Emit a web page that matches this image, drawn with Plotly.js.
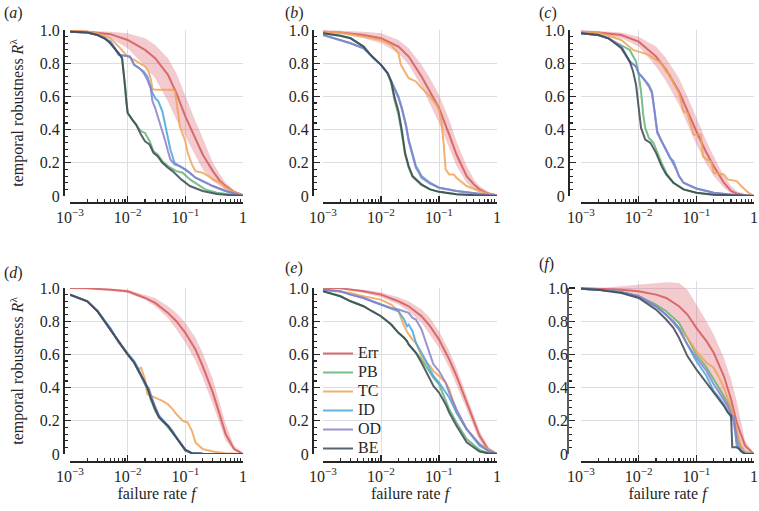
<!DOCTYPE html>
<html>
<head>
<meta charset="utf-8">
<script src="https://cdn.plot.ly/plotly-3.0.1.min.js"></script>
<style>
  html, body { margin: 0; padding: 0; background: #fff; }
  #chart { width: 759px; height: 511px; }
</style>
</head>
<body>
<div id="chart"></div>
<script>
// failure rates on which the Err mean and its band were read
var errF = [0.001, 0.002, 0.005, 0.01, 0.02, 0.03, 0.05, 0.07, 0.1, 0.15, 0.2, 0.3, 0.4, 0.5, 0.7, 1];

// (a)
var aErr   = [0.995, 0.99, 0.975, 0.94, 0.88, 0.83, 0.73, 0.62, 0.48, 0.34, 0.25, 0.15, 0.09, 0.06, 0.025, 0.005];
var aErrHi = [1.0, 0.997, 0.99, 0.98, 0.95, 0.91, 0.83, 0.74, 0.6, 0.45, 0.35, 0.2, 0.13, 0.08, 0.035, 0.01];
var aErrLo = [0.99, 0.98, 0.95, 0.89, 0.78, 0.71, 0.57, 0.46, 0.36, 0.24, 0.16, 0.09, 0.06, 0.035, 0.012, 0];
var aBEf = [0.001, 0.002, 0.003, 0.004, 0.005, 0.006, 0.007, 0.008, 0.0085, 0.009, 0.0095, 0.01, 0.012, 0.014, 0.017, 0.02, 0.024, 0.028, 0.033, 0.04, 0.05, 0.06, 0.085, 0.12, 0.2, 0.35, 0.6, 1];
var aBE  = [0.99, 0.985, 0.97, 0.95, 0.92, 0.89, 0.86, 0.83, 0.76, 0.66, 0.57, 0.5, 0.46, 0.43, 0.37, 0.33, 0.31, 0.26, 0.24, 0.2, 0.17, 0.15, 0.1, 0.06, 0.03, 0.012, 0.005, 0];
var aPBf = [0.001, 0.002, 0.003, 0.004, 0.005, 0.006, 0.007, 0.008, 0.0085, 0.009, 0.0095, 0.01, 0.012, 0.014, 0.017, 0.02, 0.024, 0.028, 0.033, 0.04, 0.05, 0.07, 0.09, 0.12, 0.16, 0.22, 0.35, 0.6, 1];
var aPB  = [0.99, 0.985, 0.97, 0.95, 0.92, 0.89, 0.86, 0.83, 0.76, 0.66, 0.57, 0.5, 0.46, 0.43, 0.39, 0.38, 0.33, 0.27, 0.25, 0.21, 0.18, 0.15, 0.14, 0.1, 0.07, 0.04, 0.02, 0.008, 0];
var aIDf = [0.001, 0.002, 0.003, 0.004, 0.005, 0.006, 0.007, 0.009, 0.011, 0.013, 0.016, 0.019, 0.022, 0.025, 0.027, 0.03, 0.034, 0.04, 0.045, 0.05, 0.055, 0.065, 0.08, 0.1, 0.12, 0.15, 0.2, 0.3, 0.5, 1];
var aID  = [0.99, 0.985, 0.97, 0.95, 0.93, 0.89, 0.85, 0.845, 0.84, 0.79, 0.77, 0.75, 0.72, 0.66, 0.62, 0.59, 0.57, 0.51, 0.43, 0.36, 0.28, 0.2, 0.18, 0.16, 0.14, 0.11, 0.09, 0.06, 0.03, 0];
var aOD  = [0.99, 0.985, 0.97, 0.95, 0.93, 0.89, 0.85, 0.845, 0.84, 0.79, 0.77, 0.74, 0.7, 0.65, 0.57, 0.53, 0.47, 0.4, 0.33, 0.27, 0.22, 0.19, 0.18, 0.16, 0.14, 0.11, 0.09, 0.06, 0.03, 0];
var aTCf = [0.001, 0.002, 0.003, 0.005, 0.007, 0.01, 0.013, 0.016, 0.02, 0.023, 0.025, 0.027, 0.03, 0.04, 0.05, 0.06, 0.066, 0.07, 0.075, 0.08, 0.09, 0.1, 0.11, 0.13, 0.15, 0.2, 0.25, 0.3, 0.4, 0.5, 0.7, 1];
var aTC  = [0.995, 0.99, 0.98, 0.95, 0.9, 0.84, 0.82, 0.8, 0.78, 0.75, 0.71, 0.645, 0.64, 0.64, 0.64, 0.64, 0.63, 0.58, 0.5, 0.42, 0.37, 0.33, 0.26, 0.19, 0.15, 0.14, 0.12, 0.1, 0.08, 0.05, 0.025, 0];

// (b)
var bErr   = [0.99, 0.985, 0.97, 0.95, 0.9, 0.84, 0.72, 0.63, 0.53, 0.37, 0.25, 0.12, 0.07, 0.04, 0.015, 0.005];
var bErrHi = [1.0, 0.995, 0.99, 0.98, 0.94, 0.89, 0.79, 0.71, 0.61, 0.46, 0.33, 0.18, 0.1, 0.06, 0.025, 0.01];
var bErrLo = [0.985, 0.975, 0.95, 0.92, 0.86, 0.79, 0.66, 0.55, 0.44, 0.29, 0.18, 0.08, 0.04, 0.02, 0.008, 0];
var bBEf = [0.001, 0.002, 0.003, 0.005, 0.007, 0.01, 0.013, 0.015, 0.017, 0.02, 0.023, 0.026, 0.03, 0.035, 0.05, 0.07, 0.1, 0.2, 0.5, 1];
var bBE  = [0.98, 0.965, 0.95, 0.9, 0.84, 0.79, 0.74, 0.69, 0.6, 0.51, 0.39, 0.26, 0.18, 0.12, 0.07, 0.04, 0.025, 0.01, 0.003, 0];
var bPB  = [0.98, 0.965, 0.95, 0.9, 0.84, 0.79, 0.74, 0.68, 0.58, 0.49, 0.37, 0.25, 0.17, 0.115, 0.065, 0.04, 0.025, 0.01, 0.003, 0];
var bIDf = [0.001, 0.002, 0.003, 0.005, 0.007, 0.01, 0.013, 0.015, 0.018, 0.02, 0.023, 0.027, 0.03, 0.035, 0.04, 0.045, 0.05, 0.07, 0.1, 0.2, 0.5, 1];
var bID  = [0.97, 0.94, 0.92, 0.89, 0.84, 0.79, 0.74, 0.69, 0.63, 0.6, 0.53, 0.43, 0.34, 0.25, 0.18, 0.15, 0.12, 0.08, 0.05, 0.03, 0.015, 0];
var bOD  = [0.97, 0.94, 0.92, 0.89, 0.84, 0.79, 0.74, 0.69, 0.62, 0.59, 0.52, 0.42, 0.33, 0.24, 0.17, 0.14, 0.11, 0.075, 0.05, 0.03, 0.015, 0];
var bTCf = [0.001, 0.002, 0.005, 0.01, 0.015, 0.02, 0.022, 0.027, 0.03, 0.04, 0.05, 0.07, 0.09, 0.1, 0.11, 0.12, 0.13, 0.15, 0.18, 0.2, 0.3, 0.5, 1];
var bTC  = [0.99, 0.985, 0.96, 0.94, 0.91, 0.86, 0.79, 0.74, 0.71, 0.69, 0.65, 0.6, 0.55, 0.52, 0.45, 0.32, 0.16, 0.13, 0.13, 0.11, 0.06, 0.03, 0];

// (c)
var cErr   = [0.99, 0.985, 0.97, 0.93, 0.84, 0.76, 0.63, 0.51, 0.39, 0.26, 0.18, 0.08, 0.03, 0.015, 0.005, 0];
var cErrHi = [1.0, 0.995, 0.985, 0.96, 0.9, 0.83, 0.71, 0.6, 0.47, 0.33, 0.24, 0.12, 0.06, 0.03, 0.01, 0];
var cErrLo = [0.985, 0.975, 0.95, 0.9, 0.78, 0.69, 0.55, 0.43, 0.31, 0.19, 0.12, 0.05, 0.015, 0.005, 0, 0];
var cBEf = [0.001, 0.002, 0.003, 0.005, 0.007, 0.008, 0.009, 0.01, 0.011, 0.013, 0.016, 0.02, 0.025, 0.03, 0.04, 0.06, 0.1, 0.2, 0.5, 1];
var cBE  = [0.98, 0.97, 0.95, 0.89, 0.81, 0.75, 0.67, 0.53, 0.41, 0.34, 0.32, 0.26, 0.18, 0.13, 0.08, 0.04, 0.02, 0.008, 0.002, 0];
var cPBf = [0.001, 0.002, 0.003, 0.005, 0.007, 0.009, 0.01, 0.011, 0.012, 0.013, 0.015, 0.018, 0.02, 0.025, 0.03, 0.04, 0.06, 0.1, 0.2, 0.5, 1];
var cPB  = [0.98, 0.97, 0.95, 0.91, 0.88, 0.81, 0.73, 0.63, 0.49, 0.41, 0.35, 0.32, 0.28, 0.2, 0.14, 0.08, 0.04, 0.02, 0.008, 0.002, 0];
var cIDf = [0.001, 0.002, 0.003, 0.005, 0.007, 0.009, 0.01, 0.012, 0.015, 0.017, 0.019, 0.021, 0.025, 0.03, 0.035, 0.04, 0.045, 0.05, 0.06, 0.08, 0.1, 0.2, 0.5, 1];
var cID  = [0.98, 0.97, 0.95, 0.9, 0.81, 0.78, 0.74, 0.71, 0.67, 0.63, 0.51, 0.39, 0.33, 0.28, 0.23, 0.21, 0.16, 0.12, 0.08, 0.06, 0.045, 0.02, 0.005, 0];
var cOD  = [0.98, 0.97, 0.95, 0.9, 0.81, 0.78, 0.74, 0.71, 0.66, 0.62, 0.5, 0.38, 0.33, 0.28, 0.23, 0.2, 0.16, 0.12, 0.08, 0.06, 0.045, 0.02, 0.005, 0];
var cTCf = [0.001, 0.002, 0.005, 0.008, 0.01, 0.015, 0.02, 0.025, 0.03, 0.035, 0.04, 0.05, 0.06, 0.07, 0.08, 0.09, 0.12, 0.13, 0.15, 0.18, 0.2, 0.3, 0.35, 0.5, 0.6, 0.8, 1];
var cTC  = [0.99, 0.985, 0.94, 0.88, 0.87, 0.85, 0.82, 0.8, 0.75, 0.73, 0.68, 0.62, 0.51, 0.5, 0.43, 0.37, 0.37, 0.24, 0.22, 0.21, 0.14, 0.13, 0.1, 0.09, 0.06, 0.02, 0];

// (d)
var dErr   = [1.0, 0.998, 0.99, 0.98, 0.94, 0.91, 0.85, 0.8, 0.73, 0.63, 0.53, 0.37, 0.23, 0.12, 0.03, 0];
var dErrHi = [1.0, 1.0, 0.997, 0.99, 0.96, 0.94, 0.89, 0.85, 0.79, 0.7, 0.61, 0.45, 0.3, 0.18, 0.05, 0.005];
var dErrLo = [1.0, 0.995, 0.985, 0.97, 0.93, 0.89, 0.82, 0.75, 0.67, 0.56, 0.46, 0.3, 0.17, 0.08, 0.02, 0];
var dBEf = [0.001, 0.002, 0.003, 0.005, 0.007, 0.01, 0.013, 0.015, 0.02, 0.023, 0.025, 0.03, 0.035, 0.04, 0.05, 0.06, 0.07, 0.08, 0.1, 0.13, 0.2, 1];
var dBE  = [0.96, 0.92, 0.86, 0.75, 0.67, 0.6, 0.55, 0.51, 0.43, 0.38, 0.34, 0.27, 0.22, 0.2, 0.17, 0.13, 0.1, 0.07, 0.025, 0.005, 0.001, 0];
var dPB  = [0.96, 0.92, 0.86, 0.75, 0.67, 0.6, 0.55, 0.51, 0.42, 0.37, 0.33, 0.26, 0.22, 0.2, 0.16, 0.13, 0.1, 0.07, 0.02, 0.004, 0.001, 0];
var dID  = [0.96, 0.92, 0.86, 0.76, 0.67, 0.61, 0.56, 0.52, 0.42, 0.4, 0.36, 0.28, 0.23, 0.21, 0.17, 0.14, 0.1, 0.07, 0.025, 0.005, 0.001, 0];
var dOD  = [0.96, 0.92, 0.86, 0.75, 0.67, 0.6, 0.55, 0.51, 0.43, 0.39, 0.35, 0.28, 0.23, 0.2, 0.17, 0.13, 0.1, 0.07, 0.025, 0.005, 0.001, 0];
var dTCf = [0.001, 0.002, 0.003, 0.005, 0.007, 0.01, 0.013, 0.015, 0.017, 0.02, 0.022, 0.025, 0.03, 0.04, 0.05, 0.06, 0.07, 0.09, 0.11, 0.13, 0.14, 0.15, 0.2, 0.3, 0.5, 1];
var dTC  = [0.96, 0.92, 0.86, 0.75, 0.67, 0.6, 0.55, 0.51, 0.52, 0.45, 0.36, 0.35, 0.34, 0.32, 0.3, 0.27, 0.24, 0.2, 0.19, 0.14, 0.1, 0.07, 0.03, 0.015, 0.005, 0];

// (e)
var eErr   = [1.0, 0.998, 0.98, 0.96, 0.92, 0.89, 0.83, 0.77, 0.69, 0.57, 0.47, 0.31, 0.19, 0.11, 0.03, 0];
var eErrHi = [1.0, 1.0, 0.99, 0.975, 0.945, 0.92, 0.87, 0.82, 0.74, 0.62, 0.52, 0.35, 0.23, 0.14, 0.045, 0.005];
var eErrLo = [1.0, 0.995, 0.97, 0.945, 0.9, 0.86, 0.79, 0.72, 0.64, 0.52, 0.42, 0.27, 0.16, 0.08, 0.02, 0];
var eF  = [0.001, 0.002, 0.003, 0.005, 0.007, 0.01, 0.015, 0.02, 0.025, 0.028, 0.03, 0.035, 0.04, 0.05, 0.06, 0.07, 0.08, 0.1, 0.13, 0.15, 0.2, 0.3, 0.5, 0.7, 1];
var eBE = [0.98, 0.95, 0.92, 0.89, 0.86, 0.83, 0.78, 0.73, 0.7, 0.68, 0.66, 0.63, 0.61, 0.55, 0.5, 0.45, 0.41, 0.37, 0.3, 0.25, 0.17, 0.07, 0.015, 0.004, 0];
var ePB = [0.98, 0.95, 0.92, 0.89, 0.86, 0.83, 0.78, 0.73, 0.7, 0.68, 0.66, 0.63, 0.61, 0.57, 0.53, 0.49, 0.46, 0.42, 0.33, 0.27, 0.19, 0.09, 0.025, 0.006, 0];
var eID = [0.99, 0.98, 0.96, 0.94, 0.92, 0.9, 0.88, 0.86, 0.81, 0.77, 0.78, 0.74, 0.67, 0.61, 0.56, 0.51, 0.47, 0.43, 0.37, 0.34, 0.25, 0.15, 0.05, 0.02, 0];
var eTC = [0.99, 0.98, 0.97, 0.95, 0.94, 0.93, 0.9, 0.86, 0.77, 0.74, 0.72, 0.69, 0.67, 0.59, 0.55, 0.53, 0.5, 0.47, 0.43, 0.39, 0.25, 0.15, 0.06, 0.03, 0];
var eOD = [0.99, 0.98, 0.96, 0.94, 0.92, 0.9, 0.88, 0.87, 0.86, 0.855, 0.85, 0.82, 0.81, 0.75, 0.67, 0.61, 0.54, 0.5, 0.43, 0.37, 0.27, 0.15, 0.06, 0.02, 0];

// (f)
var fErr   = [1.0, 0.995, 0.99, 0.98, 0.96, 0.94, 0.89, 0.84, 0.76, 0.68, 0.61, 0.47, 0.33, 0.19, 0.05, 0];
var fErrHi = [1.0, 1.0, 1.01, 1.02, 1.03, 1.035, 1.03, 0.99, 0.9, 0.8, 0.72, 0.58, 0.45, 0.32, 0.08, 0];
var fErrLo = [1.0, 0.99, 0.97, 0.94, 0.9, 0.86, 0.78, 0.7, 0.62, 0.52, 0.45, 0.32, 0.2, 0.08, 0, 0];
var fF  = [0.001, 0.002, 0.003, 0.005, 0.01, 0.02, 0.03, 0.04, 0.05, 0.06, 0.07, 0.1, 0.15, 0.2, 0.25, 0.3, 0.35, 0.4, 0.42, 0.45, 0.5, 0.55, 0.6, 0.7, 1];
var fBE = [0.995, 0.99, 0.98, 0.97, 0.94, 0.87, 0.81, 0.76, 0.7, 0.64, 0.59, 0.51, 0.43, 0.37, 0.33, 0.29, 0.25, 0.23, 0.04, 0.04, 0.04, 0.03, 0.015, 0, 0];
var fPB = [0.995, 0.99, 0.985, 0.975, 0.95, 0.9, 0.86, 0.82, 0.79, 0.74, 0.7, 0.6, 0.52, 0.45, 0.4, 0.35, 0.31, 0.27, 0.25, 0.2, 0.12, 0.07, 0.04, 0.01, 0];
var fID = [0.995, 0.99, 0.985, 0.975, 0.95, 0.89, 0.84, 0.8, 0.76, 0.71, 0.66, 0.56, 0.47, 0.38, 0.34, 0.3, 0.26, 0.22, 0.21, 0.2, 0.05, 0.04, 0.02, 0.005, 0];
var fTC = [0.995, 0.99, 0.985, 0.975, 0.95, 0.89, 0.84, 0.8, 0.76, 0.73, 0.7, 0.62, 0.55, 0.52, 0.46, 0.4, 0.34, 0.28, 0.26, 0.22, 0.15, 0.09, 0.05, 0.01, 0];
var fOD = [0.995, 0.99, 0.985, 0.975, 0.95, 0.89, 0.84, 0.79, 0.75, 0.7, 0.66, 0.58, 0.5, 0.42, 0.37, 0.33, 0.29, 0.24, 0.23, 0.22, 0.08, 0.04, 0.02, 0, 0];

var names = ["Err", "PB", "TC", "ID", "OD", "BE"];
var colors = {
  Err: "#d65f5f",
  PB: "#5fb475",
  TC: "#f0a358",
  ID: "#4aa3df",
  OD: "#8a7fc9",
  BE: "#3b4650",
};
var bandColor = "rgba(222,104,114,0.35)";
var panelLetters = ["a", "b", "c", "d", "e", "f"];

var xTickVals = [0.001, 0.01, 0.1, 1];
var xTickText = ["10<sup>\u22123</sup>", "10<sup>\u22122</sup>", "10<sup>\u22121</sup>", "1"];
var xMinorVals = [0.002, 0.003, 0.004, 0.005, 0.006, 0.007, 0.008, 0.009,
  0.02, 0.03, 0.04, 0.05, 0.06, 0.07, 0.08, 0.09,
  0.2, 0.3, 0.4, 0.5, 0.6, 0.7, 0.8, 0.9];
var yTickVals = [0, 0.2, 0.4, 0.6, 0.8, 1];
var yTickText = ["0", "0.2", "0.4", "0.6", "0.8", "1.0"];

var panels = [
  { err: [aErr, aErrHi, aErrLo], PB: [aPBf, aPB], TC: [aTCf, aTC], ID: [aIDf, aID], OD: [aIDf, aOD], BE: [aBEf, aBE] },
  { err: [bErr, bErrHi, bErrLo], PB: [bBEf, bPB], TC: [bTCf, bTC], ID: [bIDf, bID], OD: [bIDf, bOD], BE: [bBEf, bBE] },
  { err: [cErr, cErrHi, cErrLo], PB: [cPBf, cPB], TC: [cTCf, cTC], ID: [cIDf, cID], OD: [cIDf, cOD], BE: [cBEf, cBE] },
  { err: [dErr, dErrHi, dErrLo], PB: [dBEf, dPB], TC: [dTCf, dTC], ID: [dBEf, dID], OD: [dBEf, dOD], BE: [dBEf, dBE] },
  { err: [eErr, eErrHi, eErrLo], PB: [eF, ePB], TC: [eF, eTC], ID: [eF, eID], OD: [eF, eOD], BE: [eF, eBE] },
  { err: [fErr, fErrHi, fErrLo], PB: [fF, fPB], TC: [fF, fTC], ID: [fF, fID], OD: [fF, fOD], BE: [fF, fBE] },
];

// pixel frames of the six panels (759 x 511 page)
var colX = [[70, 243], [323, 497], [581, 754]];
var colYLine = [63, 312, 568];
var rowY = [[30, 196], [288, 454]];
var rowXLine = [202, 461];
var W = 759, H = 511;

var ink = "#262626";
var serif = "Liberation Serif, Times New Roman, serif";

// legend rows are packed tight with a small base size; the label itself is drawn larger
function legendName(nm) {
  return '<span style="font-size:16px">' + nm + "</span>";
}

var data = [];
var layout = {
  width: W,
  height: H,
  margin: { l: 0, r: 0, t: 0, b: 0 },
  paper_bgcolor: "#ffffff",
  plot_bgcolor: "rgba(0,0,0,0)",
  font: { family: serif, size: 16, color: ink },
  showlegend: true,
  legend: {
    x: 318 / W,
    y: 1 - 339 / H,
    xanchor: "left",
    yanchor: "top",
    traceorder: "normal",
    bgcolor: "rgba(0,0,0,0)",
    font: { family: serif, size: 12, color: ink },
    tracegroupgap: 0,
    itemwidth: 30,
  },
  annotations: [],
  shapes: [],
};

var labelPos = [[2, 13], [283, 13], [537, 13], [2, 273], [283, 268], [537, 264]];

panels.forEach(function (p, i) {
  var n = i + 1;
  var xa = "x" + n, ya = "y" + n;
  var col = i % 3, row = Math.floor(i / 3);
  var top = i == 5 ? 1.04 : 1;
  var ypx = rowY[row];
  var yTopPx = ypx[1] - (ypx[1] - ypx[0]) * top;

  // Err band, then mean, then the five lines
  data.push({
    x: errF, y: p.err[1], xaxis: xa, yaxis: ya, mode: "lines",
    line: { width: 0, color: bandColor }, showlegend: false, hoverinfo: "skip",
  });
  data.push({
    x: errF, y: p.err[2], xaxis: xa, yaxis: ya, mode: "lines", fill: "tonexty",
    fillcolor: bandColor, line: { width: 0, color: bandColor },
    showlegend: false, hoverinfo: "skip",
  });
  data.push({
    x: errF, y: p.err[0], xaxis: xa, yaxis: ya, mode: "lines", name: legendName("Err"),
    line: { color: colors.Err, width: 2 }, opacity: 0.9, showlegend: i == 4,
  });
  names.slice(1).forEach(function (nm) {
    data.push({
      x: p[nm][0], y: p[nm][1], xaxis: xa, yaxis: ya, mode: "lines", name: legendName(nm),
      line: { color: colors[nm], width: 2 }, opacity: 0.85, showlegend: i == 4,
    });
  });

  layout["xaxis" + (n == 1 ? "" : n)] = {
    type: "log",
    domain: [colX[col][0] / W, colX[col][1] / W],
    range: [-3, 0],
    anchor: "free",
    position: 1 - rowXLine[row] / H,
    tickmode: "array",
    tickvals: xTickVals,
    ticktext: xTickText,
    ticks: "inside",
    ticklen: 6,
    tickwidth: 1.3,
    tickcolor: ink,
    showline: true,
    linecolor: ink,
    linewidth: 1.5,
    showgrid: true,
    gridcolor: "#dcdce3",
    gridwidth: 1,
    zeroline: false,
    minor: { tickmode: "array", tickvals: xMinorVals, ticks: "inside", ticklen: 3, tickwidth: 1.1, tickcolor: ink, showgrid: false },
    tickfont: { family: serif, size: 16, color: ink },
    title: row == 1 ? { text: "failure rate <i>f</i>", font: { family: serif, size: 16, color: ink }, standoff: 4 } : { text: "" },
  };

  layout["yaxis" + (n == 1 ? "" : n)] = {
    domain: [1 - ypx[1] / H, 1 - yTopPx / H],
    range: [0, top],
    anchor: "free",
    position: colYLine[col] / W,
    tickmode: "array",
    tickvals: yTickVals,
    ticktext: yTickText,
    ticks: "inside",
    ticklen: 6,
    tickwidth: 1.3,
    tickcolor: ink,
    showline: i != 5,
    linecolor: ink,
    linewidth: 1.5,
    showgrid: true,
    gridcolor: "#dcdce3",
    gridwidth: 1,
    zeroline: false,
    minor: { tickmode: "linear", tick0: 0, dtick: 0.04, ticks: "inside", ticklen: 3, tickwidth: 1.1, tickcolor: ink, showgrid: false },
    tickfont: { family: serif, size: 16, color: ink },
    title: col == 0 ? { text: "temporal robustness <i>R</i><sup>\u03bb</sup>", font: { family: serif, size: 16, color: ink }, standoff: 10 } : { text: "" },
  };

  if (i == 5) {
    // spine of (f) stops at 1.0 although the band runs above it
    layout.shapes.push({
      type: "line", xref: "paper", yref: ya,
      x0: colYLine[col] / W, x1: colYLine[col] / W, y0: 0, y1: 1,
      line: { color: ink, width: 1.5 },
    });
  }

  layout.annotations.push({
    text: "(<i>" + panelLetters[i] + "</i>)",
    xref: "paper", yref: "paper",
    x: labelPos[i][0] / W, y: 1 - labelPos[i][1] / H,
    xanchor: "left", yanchor: "middle", showarrow: false,
    font: { family: serif, size: 16, color: ink },
  });
});

Plotly.newPlot("chart", data, layout, { displayModeBar: false, staticPlot: true });
</script>
</body>
</html>
